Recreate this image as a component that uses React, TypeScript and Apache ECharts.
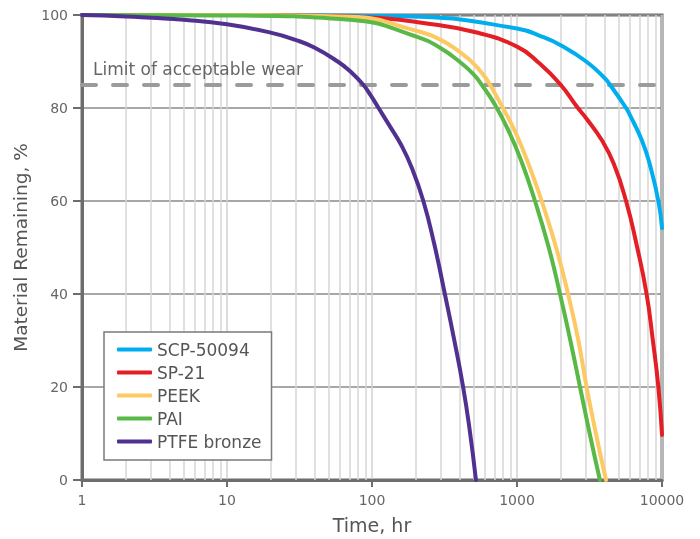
import React, { useEffect, useRef } from 'react';
import * as echarts from 'echarts';

const seriesNames = ['SCP-50094', 'SP-21', 'PEEK', 'PAI', 'PTFE bronze'];
const seriesColors = ['#00aeef', '#e31e25', '#fdc962', '#58b947', '#50318f'];

const scp50094 = [[1, 100], [10, 100], [100, 99.8], [214, 99.6], [1000, 97.1], [1500, 95.3], [2000, 93.5], [3000, 90], [4000, 86.5], [4380, 85], [5650, 80], [6000, 78.5], [7250, 73.1], [8300, 67.5], [9440, 60], [10000, 54.2]];
const sp21 = [[1, 100], [10, 100], [50, 99.8], [120, 99.3], [214, 98.4], [500, 96.4], [1000, 93.2], [1440, 89.5], [2000, 85], [2600, 80.2], [3000, 77.8], [3840, 73.1], [4650, 68], [5650, 60], [6680, 50.6], [7830, 40], [8650, 30], [9440, 20], [10000, 9.7]];
const peek = [[1, 100], [10, 100], [70, 99.6], [214, 96.4], [300, 94.6], [400, 92.1], [500, 89.6], [600, 86.7], [651, 85], [800, 80], [968, 75], [1132, 70], [1301, 65], [1480, 60], [1860, 50], [2250, 40], [2650, 30], [3020, 20], [3500, 10], [4110, 0]];
const pai = [[1, 100], [10, 99.9], [70, 99], [214, 95.1], [300, 92.8], [400, 90], [500, 87.3], [571, 85], [705, 80.7], [872, 75.2], [1077, 68.4], [1330, 60], [1655, 50], [1980, 40], [2333, 30], [2720, 20], [3170, 10], [3730, 0]];
const ptfeBronze = [[1, 100], [2, 99.7], [3, 99.4], [5, 99], [10, 98], [20, 96.2], [30, 94.6], [40, 93], [58, 90], [70, 88], [87, 85], [98, 82.7], [111, 80], [132, 76.2], [158, 72.2], [189, 67], [226, 60], [268, 50.9], [318, 40], [367, 30.5], [425, 20], [471, 10.9], [521, 0]];

const seriesData = [scp50094, sp21, peek, pai, ptfeBronze];

const minorGridX = [2, 3, 4, 5, 6, 7, 8, 9, 20, 30, 40, 50, 60, 70, 80, 90, 200, 300, 400, 500, 600, 700, 800, 900, 2000, 3000, 4000, 5000, 6000, 7000, 8000, 9000];
const wearLimit = 85;
const wearLabel = 'Limit of acceptable wear';
const xName = 'Time, hr';
const yName = 'Material Remaining, %';

const FONT = '"DejaVu Sans", "Open Sans", sans-serif';

export default function App() {
  const ref = useRef<HTMLDivElement>(null);
  useEffect(() => {
    if (!ref.current) return;
    const chart = echarts.init(ref.current, null, { renderer: 'svg' });
    const lines: any[] = seriesNames.map((name, i) => ({
      name,
      type: 'line',
      data: seriesData[i],
      smooth: 0.5,
      showSymbol: false,
      symbol: 'none',
      color: seriesColors[i],
      lineStyle: { width: 4, color: seriesColors[i], cap: 'round', join: 'round' },
      z: 5,
    }));
    const helper = {
      name: 'gridHelper',
      type: 'line',
      data: [],
      silent: true,
      z: 1,
      markLine: {
        silent: true,
        symbol: 'none',
        animation: false,
        z: 1,
        label: { show: false },
        data: [
          ...minorGridX.map((v) => ({ xAxis: v, lineStyle: { color: '#d6d6d6', width: 1.5, type: 'solid' } })),
          { yAxis: wearLimit, lineStyle: { color: '#9b9b9b', width: 4, type: [14, 17], cap: 'round' } },
        ],
      },
    };
    chart.setOption({
      animation: false,
      textStyle: { fontFamily: FONT },
      grid: {
        left: 82,
        right: 38,
        top: 15,
        bottom: 59,
        show: true,
        borderColor: '#6d6d6d',
        borderWidth: 3,
        backgroundColor: 'transparent',
      },
      legend: {
        data: seriesNames,
        orient: 'vertical',
        left: 104,
        top: 332,
        z: 8,
        padding: [9, 10, 10, 13],
        itemGap: 6,
        itemWidth: 35,
        itemHeight: 4,
        itemTextGap: 10,
        icon: 'roundRect',
        borderColor: '#7a7a7a',
        borderWidth: 1.5,
        backgroundColor: '#ffffff',
        textStyle: { fontSize: 17, color: '#555555', fontFamily: FONT, lineHeight: 17 },
      },
      xAxis: {
        type: 'log',
        logBase: 10,
        min: 1,
        max: 10000,
        name: xName,
        nameLocation: 'middle',
        nameGap: 35,
        nameTextStyle: { fontSize: 19, color: '#555555', fontFamily: FONT },
        axisLine: { show: true, lineStyle: { color: '#6d6d6d', width: 3 } },
        axisTick: { show: true, length: 7, lineStyle: { color: '#6d6d6d', width: 2 } },
        axisLabel: {
          fontSize: 14,
          color: '#666666',
          margin: 13,
          fontFamily: FONT,
          formatter: (v: number) => String(Math.round(v)),
        },
        splitLine: { show: true, lineStyle: { color: '#d0d0d0', width: 1.5 } },
      },
      yAxis: {
        type: 'value',
        min: 0,
        max: 100,
        interval: 20,
        name: yName,
        nameLocation: 'middle',
        nameGap: 47,
        nameRotate: 90,
        nameTextStyle: { fontSize: 18.5, color: '#555555', fontFamily: FONT },
        axisLine: { show: true, lineStyle: { color: '#6d6d6d', width: 3 } },
        axisTick: { show: true, length: 9, lineStyle: { color: '#6d6d6d', width: 2 } },
        axisLabel: { fontSize: 14, color: '#666666', margin: 14, fontFamily: FONT },
        splitLine: { show: true, lineStyle: { color: '#8a8a8a', width: 1.5 } },
      },
      graphic: [
        {
          type: 'text',
          left: 93,
          top: 60,
          z: 10,
          style: { text: wearLabel, font: `17px ${FONT}`, fill: '#666666' },
        },
      ],
      series: [helper, ...lines],
    });
    return () => chart.dispose();
  }, []);
  return <div ref={ref} style={{ position: 'fixed', left: 0, top: 0, width: 700, height: 539 }} />;
}
